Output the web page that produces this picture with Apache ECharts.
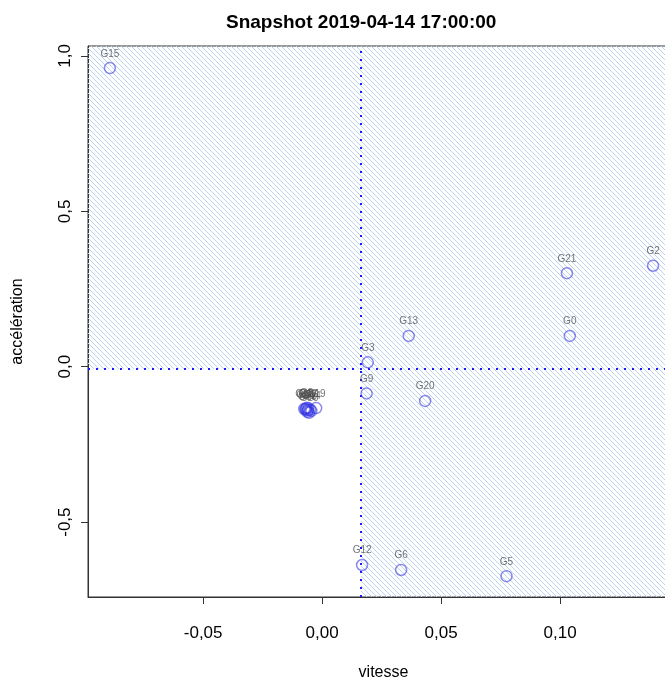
<!DOCTYPE html>
<html><head><meta charset="utf-8">
<script src="https://cdn.jsdelivr.net/npm/echarts@6/dist/echarts.min.js"></script>
<style>html,body{margin:0;padding:0;background:#fff}#c{width:665px;height:680px}</style>
</head><body><div id="c"></div>
<script>
// ---- data ----
const groupNames = ['G0','G1','G2','G3','G4','G5','G6','G7','G8','G9','G10','G11','G12','G13','G14','G15','G16','G17','G18','G19','G20','G21'];
const vitesse = [0.1041,-0.0070,0.1391,0.0192,-0.0060,0.0775,0.0332,-0.0050,-0.0065,0.0187,-0.0055,-0.0075,0.0168,0.0364,-0.0045,-0.0892,-0.0068,-0.0058,-0.0062,-0.0025,0.0433,0.1029];
const acceleration = [0.099,-0.135,0.325,0.014,-0.140,-0.674,-0.654,-0.138,-0.132,-0.086,-0.148,-0.136,-0.638,0.099,-0.142,0.961,-0.139,-0.134,-0.145,-0.133,-0.110,0.301];
const thresholdVitesse = 0.0163;
const thresholdAcceleration = -0.0074;
const xTickValues = [-0.05, 0, 0.05, 0.10];
const xTickLabels = ['-0,05','0,00','0,05','0,10'];
const yTickValues = [-0.5, 0, 0.5, 1.0];
const yTickLabels = ['-0,5','0,0','0,5','1,0'];
const xRange = [-0.0984, 0.1500];
const yRange = [-0.741, 1.032];

function hatch(){
  const s = 5;
  const c = document.createElement('canvas'); c.width = s; c.height = s;
  const g = c.getContext('2d');
  g.strokeStyle = '#bcd3ef'; g.lineWidth = 1.0;
  g.beginPath();
  g.moveTo(-1, -1); g.lineTo(s + 1, s + 1);
  g.moveTo(-1, s - 1); g.lineTo(1, s + 1);
  g.moveTo(s - 1, -1); g.lineTo(s + 1, 1);
  g.stroke();
  return c;
}
const pattern = { image: hatch(), repeat: 'repeat' };

const pts = groupNames.map((n, i) => ({ name: n, value: [vitesse[i], acceleration[i]] }));
const FONT = '"Liberation Sans", Arial, sans-serif';

const chart = echarts.init(document.getElementById('c'), null, { renderer: 'canvas' });
chart.setOption({
  animation: false,
  backgroundColor: '#fff',
  title: {
    text: 'Snapshot 2019-04-14 17:00:00',
    left: 221, top: 8,
    textStyle: { fontFamily: FONT, fontSize: 19, fontWeight: 'bold', color: '#000' }
  },
  grid: { left: 88, top: 46, width: 591, height: 551, show: true, borderColor: '#333', borderWidth: 1, outerBoundsMode: 'none', containLabel: false },
  xAxis: {
    type: 'value', min: xRange[0], max: xRange[1],
    name: 'vitesse', nameLocation: 'middle', nameGap: 68,
    nameTextStyle: { fontFamily: FONT, fontSize: 16, color: '#000' },
    axisLine: { show: true, onZero: false, lineStyle: { color: '#333', width: 1 } },
    axisTick: { show: true, length: 7, lineStyle: { color: '#333' }, customValues: xTickValues },
    axisLabel: { margin: 28, fontFamily: FONT, fontSize: 17, color: '#000', customValues: xTickValues,
      formatter: v => { const i = xTickValues.findIndex(t => Math.abs(t - v) < 1e-9); return i >= 0 ? xTickLabels[i] : ''; } },
    splitLine: { show: false }
  },
  yAxis: {
    type: 'value', min: yRange[0], max: yRange[1],
    name: 'accélération', nameLocation: 'middle', nameGap: 62, nameRotate: 90,
    nameTextStyle: { fontFamily: FONT, fontSize: 16, color: '#000' },
    axisLine: { show: true, onZero: false, lineStyle: { color: '#333', width: 1 } },
    axisTick: { show: true, length: 7, lineStyle: { color: '#333' }, customValues: yTickValues },
    axisLabel: { rotate: 90, margin: 14, fontFamily: FONT, fontSize: 17, color: '#000', customValues: yTickValues,
      formatter: v => { const i = yTickValues.findIndex(t => Math.abs(t - v) < 1e-9); return i >= 0 ? yTickLabels[i] : ''; } },
    splitLine: { show: false }
  },
  series: [{
    type: 'scatter',
    data: pts,
    symbol: 'circle', symbolSize: 11,
    itemStyle: { color: 'rgba(255,255,255,0)', borderColor: 'rgba(50,50,225,0.72)', borderWidth: 1.5 },
    label: { show: true, position: 'top', distance: 3, formatter: p => p.name,
      fontFamily: FONT, fontSize: 10, color: '#505050' },
    z: 5,
    markArea: {
      silent: true,
      itemStyle: { color: pattern, borderWidth: 0 },
      data: [
        [{ coord: [xRange[0], thresholdAcceleration] }, { coord: [xRange[1], yRange[1]] }],
        [{ coord: [thresholdVitesse, yRange[0]] }, { coord: [xRange[1], thresholdAcceleration] }]
      ]
    },
    markLine: {
      silent: true, symbol: 'none', label: { show: false },
      lineStyle: { color: '#1a1aff', width: 2, type: [2, 6] },
      data: [
        [{ coord: [thresholdVitesse, yRange[0]] }, { coord: [thresholdVitesse, yRange[1]] }],
        [{ coord: [xRange[0], thresholdAcceleration] }, { coord: [xRange[1], thresholdAcceleration] }]
      ]
    }
  }]
});
</script></body></html>
